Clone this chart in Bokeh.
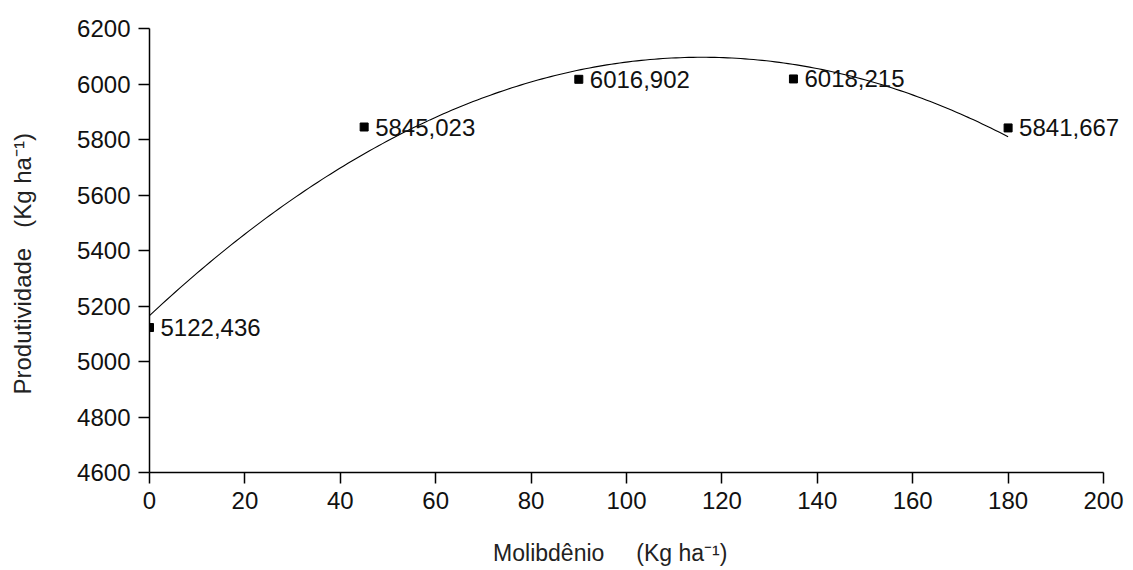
import numpy as np
from bokeh.plotting import figure
from bokeh.models import Range1d, ColumnDataSource, FixedTicker
from bokeh.core.properties import value
from bokeh.embed import file_html
from bokeh.resources import INLINE

# data
molibdenio = [0, 45, 90, 135, 180]
produtividade = [5122.436, 5845.023, 6016.902, 6018.215, 5841.667]
labels = ["5122,436", "5845,023", "6016,902", "6018,215", "5841,667"]
x_ticks = [0, 20, 40, 60, 80, 100, 120, 140, 160, 180, 200]
y_ticks = [4600, 4800, 5000, 5200, 5400, 5600, 5800, 6000, 6200]

FONT = "Liberation Sans"
NB = "\u00a0"

# frame extends a little past x=200 so the last data label is not clipped;
# the x axis itself is bounded to 0..200
W, LEFT, RIGHT = 1130, 149, 2
px_per_unit = 954 / 200
x_end = (W - LEFT - RIGHT) / px_per_unit

p = figure(width=W, height=568, output_backend="svg", toolbar_location=None,
           x_range=Range1d(0, x_end), y_range=Range1d(4600, 6200),
           min_border_left=LEFT, min_border_right=RIGHT, min_border_top=28, min_border_bottom=96)
p.outline_line_color = None
p.grid.visible = False

# quadratic trend line fitted to the data
coef = np.polyfit(molibdenio, produtividade, 2)
xf = np.linspace(0, 180, 200)
p.line(xf, np.polyval(coef, xf), line_color="black", line_width=1.1)

src = ColumnDataSource(dict(x=molibdenio, y=produtividade, t=labels))
p.scatter("x", "y", source=src, marker="square", size=8, color="black")
p.text("x", "y", text="t", source=src, x_offset=11, text_baseline="middle",
       text_font=value(FONT), text_font_size="24px", text_color="#111111")

for ax in (p.xaxis[0], p.yaxis[0]):
    ax.axis_line_color = "black"
    ax.axis_line_width = 1.5
    ax.major_tick_line_color = "black"
    ax.major_tick_line_width = 1.5
    ax.major_tick_out = 11
    ax.major_tick_in = 0
    ax.minor_tick_line_color = None
    ax.major_label_text_font = FONT
    ax.major_label_text_font_size = "24px"
    ax.major_label_text_color = "#111111"
    ax.axis_label_text_font = FONT
    ax.axis_label_text_font_style = "normal"
    ax.axis_label_text_color = "#222222"
p.xaxis[0].ticker = FixedTicker(ticks=x_ticks)
p.yaxis[0].ticker = FixedTicker(ticks=y_ticks)
p.xaxis[0].bounds = (0, 200)
p.xaxis[0].major_label_standoff = 8
p.yaxis[0].major_label_standoff = 8

p.xaxis[0].axis_label = "Molibdênio" + NB * 5 + "(Kg ha⁻¹)" + NB * 9
p.xaxis[0].axis_label_text_font_size = "23px"
p.xaxis[0].axis_label_standoff = 28
p.yaxis[0].axis_label = "Produtividade" + NB * 3 + "(Kg ha⁻¹)" + NB * 4
p.yaxis[0].axis_label_text_font_size = "24px"
p.yaxis[0].axis_label_standoff = 38

open("out.html", "w").write(file_html(p, INLINE))
